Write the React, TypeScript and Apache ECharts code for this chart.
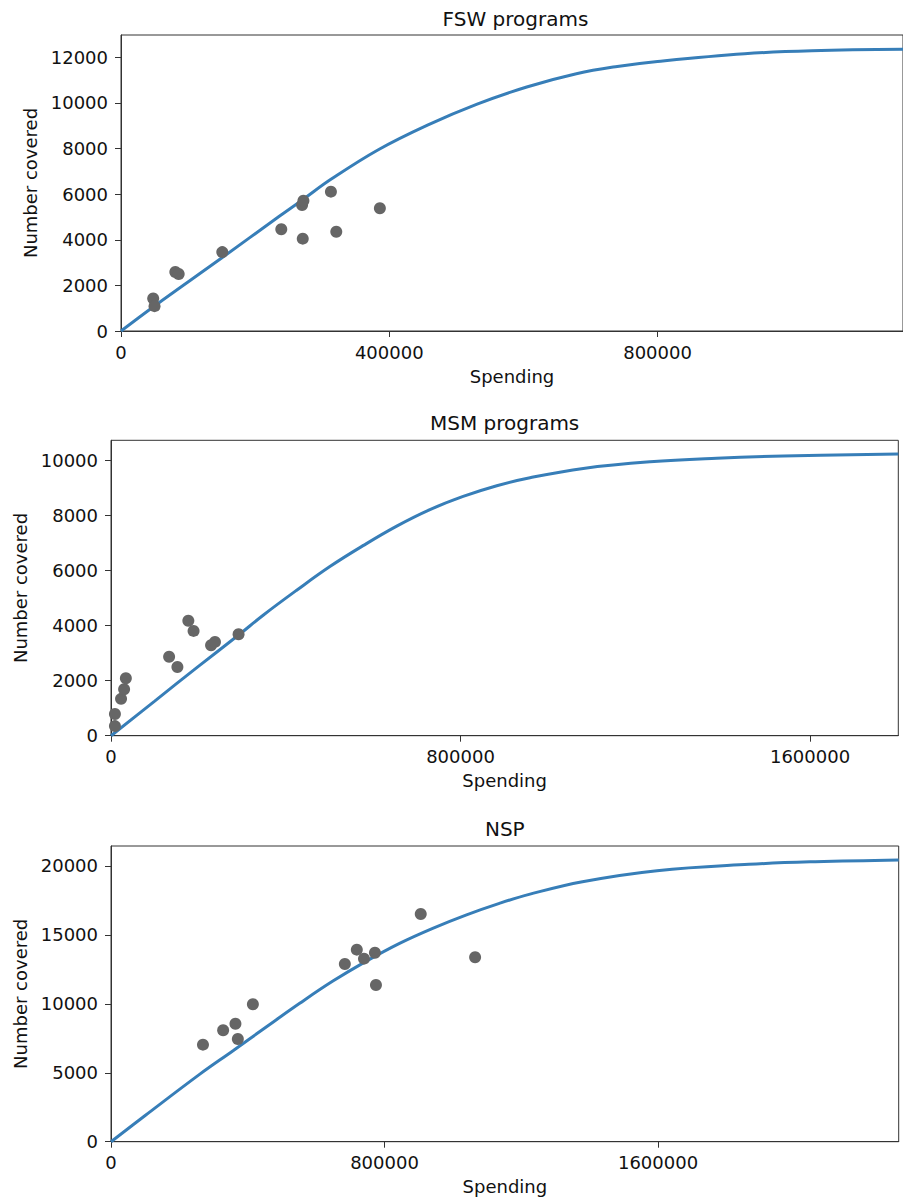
import React, { useEffect, useRef } from "react";
import * as echarts from "echarts";

// ---------- Data ----------
const TITLES = ["FSW programs", "MSM programs", "NSP"];
const X_LABEL = "Spending";
const Y_LABEL = "Number covered";

// FSW scatter
const FSW_SPEND = [48000, 50000, 81000, 86000, 151000, 239000, 271000, 270000, 272000, 313000, 321000, 386000];
const FSW_COVER = [1430, 1090, 2590, 2500, 3460, 4460, 4050, 5520, 5710, 6110, 4350, 5380];
// FSW fitted curve
const FSW_CURVE_X = [0, 50000, 150000, 235000, 272000, 313000, 383000, 457000, 531000, 605000, 679000, 740000, 800000, 930000, 1030000, 1166000];
const FSW_CURVE_Y = [0, 1100, 3200, 5010, 5780, 6650, 7940, 9030, 9950, 10700, 11280, 11600, 11820, 12160, 12290, 12350];

// MSM scatter
const MSM_SPEND = [9000, 9000, 23000, 30000, 34000, 133000, 152000, 177000, 189000, 229000, 238000, 292000];
const MSM_COVER = [790, 350, 1340, 1690, 2090, 2870, 2500, 4180, 3810, 3290, 3410, 3690];
// MSM fitted curve
const MSM_CURVE_X = [0, 100000, 200000, 292000, 349000, 425000, 501000, 578000, 654000, 730000, 806000, 883000, 959000, 1081000, 1234000, 1386000, 1539000, 1802000];
const MSM_CURVE_Y = [0, 1260, 2520, 3660, 4390, 5290, 6150, 6920, 7620, 8220, 8700, 9090, 9380, 9720, 9960, 10090, 10170, 10240];

// NSP scatter
const NSP_SPEND = [269000, 328000, 364000, 371000, 415000, 684000, 719000, 740000, 772000, 775000, 906000, 1065000];
const NSP_COVER = [7040, 8080, 8560, 7450, 9970, 12890, 13930, 13280, 13710, 11370, 16520, 13380];
// NSP fitted curve
const NSP_CURVE_X = [0, 100000, 260000, 357000, 455000, 552000, 649000, 747000, 844000, 941000, 1038000, 1136000, 1223000, 1379000, 1597000, 1866000, 2060000, 2304000];
const NSP_CURVE_Y = [0, 1900, 4900, 6600, 8340, 10040, 11650, 13100, 14390, 15480, 16440, 17290, 17940, 18860, 19660, 20120, 20310, 20440];

// Axis extents and ticks
const X_MAX = [1166000, 1802000, 2304000];
const Y_MAX = [12980, 10742, 21450];
const X_TICKS = [
  [0, 400000, 800000],
  [0, 800000, 1600000],
  [0, 800000, 1600000],
];
const Y_TICKS = [
  [0, 2000, 4000, 6000, 8000, 10000, 12000],
  [0, 2000, 4000, 6000, 8000, 10000],
  [0, 5000, 10000, 15000, 20000],
];

// ---------- Layout ----------
const GRIDS = [
  { left: 121, top: 35, width: 789, height: 296 },
  { left: 111, top: 440.3, width: 787.3, height: 295.4 },
  { left: 111, top: 846, width: 787.7, height: 295.7 },
];
const FONT = "DejaVu Sans";
const TEXT = "#111";
const AXIS = "#333";
const LINE_COLOR = "#377eb8";
const DOT_COLOR = "#666666";

const zip = (a: number[], b: number[]) => a.map((v, i) => [v, b[i]]);

export default function App() {
  const ref = useRef<HTMLDivElement>(null);

  useEffect(() => {
    if (!ref.current) return;
    const chart = echarts.init(ref.current, null, { renderer: "svg" });

    const scatters = [zip(FSW_SPEND, FSW_COVER), zip(MSM_SPEND, MSM_COVER), zip(NSP_SPEND, NSP_COVER)];
    const curves = [zip(FSW_CURVE_X, FSW_CURVE_Y), zip(MSM_CURVE_X, MSM_CURVE_Y), zip(NSP_CURVE_X, NSP_CURVE_Y)];

    const grid = GRIDS.map((g) => ({
      ...g,
      show: true,
      borderColor: AXIS,
      borderWidth: 1,
      backgroundColor: "transparent",
      containLabel: false,
    }));

    const xAxis = GRIDS.map((_, i) => ({
      type: "value",
      gridIndex: i,
      min: 0,
      max: X_MAX[i],
      name: X_LABEL,
      nameLocation: "middle",
      nameGap: 36,
      nameTextStyle: { fontFamily: FONT, fontSize: 18, color: TEXT },
      splitLine: { show: false },
      axisLine: { show: true, lineStyle: { color: AXIS, width: 1 } },
      axisTick: { show: true, length: 6, inside: false, customValues: X_TICKS[i], lineStyle: { color: AXIS } },
      axisLabel: {
        customValues: X_TICKS[i],
        margin: 12,
        fontFamily: FONT,
        fontSize: 18,
        color: TEXT,
        formatter: (v: number) => String(v),
      },
    }));

    const yAxis = GRIDS.map((_, i) => ({
      type: "value",
      gridIndex: i,
      min: 0,
      max: Y_MAX[i],
      name: Y_LABEL,
      nameLocation: "middle",
      nameGap: 79,
      nameRotate: 90,
      nameTextStyle: { fontFamily: FONT, fontSize: 18, color: TEXT },
      splitLine: { show: false },
      axisLine: { show: true, lineStyle: { color: AXIS, width: 1 } },
      axisTick: { show: true, length: 6, inside: false, customValues: Y_TICKS[i], lineStyle: { color: AXIS } },
      axisLabel: {
        customValues: Y_TICKS[i],
        margin: 13,
        fontFamily: FONT,
        fontSize: 18,
        color: TEXT,
        formatter: (v: number) => String(v),
      },
    }));

    const series: any[] = [];
    GRIDS.forEach((_, i) => {
      series.push({
        type: "line",
        xAxisIndex: i,
        yAxisIndex: i,
        data: curves[i],
        showSymbol: false,
        smooth: 0.4,
        clip: true,
        lineStyle: { color: LINE_COLOR, width: 3 },
        z: 2,
      });
      series.push({
        type: "scatter",
        xAxisIndex: i,
        yAxisIndex: i,
        data: scatters[i],
        symbol: "circle",
        symbolSize: 12,
        itemStyle: { color: DOT_COLOR, opacity: 1 },
        clip: false,
        z: 3,
      });
    });

    const titleCenters = [
      { x: 515.5, y: 18.5 },
      { x: 504.6, y: 423 },
      { x: 504.8, y: 828.7 },
    ];

    chart.setOption({
      animation: false,
      backgroundColor: "#ffffff",
      grid,
      xAxis,
      yAxis,
      series,
      graphic: TITLES.map((t, i) => ({
        type: "text",
        x: titleCenters[i].x,
        y: titleCenters[i].y,
        style: {
          text: t,
          fontFamily: FONT,
          fontSize: 20,
          fill: TEXT,
          align: "center",
          verticalAlign: "middle",
        },
      })),
    });

    return () => chart.dispose();
  }, []);

  return (
    <div
      ref={ref}
      style={{ position: "absolute", left: 0, top: 0, width: 903, height: 1202 }}
    />
  );
}
